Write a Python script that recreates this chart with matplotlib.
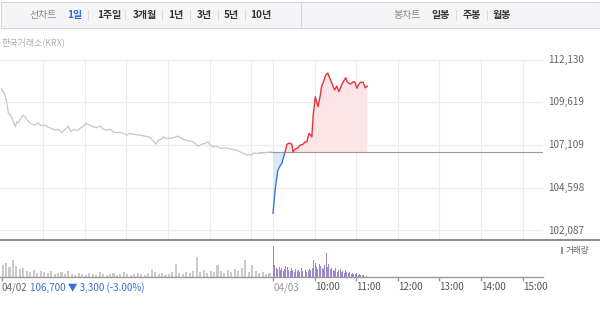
import numpy as np
import matplotlib.pyplot as plt
from matplotlib.patches import Rectangle
from matplotlib.lines import Line2D

plt.rcParams['font.family'] = ['Noto Sans CJK KR', 'DejaVu Sans']

# 데이터
prev_close = 106700
y_ticks = [102087, 104598, 107109, 109619, 112130]

# 04/02 (분, 가격)
day1_min = [0, 2, 4, 7, 10, 13, 17, 20, 22, 24, 28, 31, 35, 39, 44, 48, 53, 57, 63, 68, 72,
            77, 82, 87, 92, 96, 100, 104, 109, 113, 118, 122, 127, 132, 137, 142, 147, 152,
            157, 161, 166, 171, 176, 181, 185, 193, 200, 207, 214, 220, 223, 226, 231, 233,
            237, 243, 250, 255, 260, 265, 269, 274, 279, 284, 289, 294, 298, 301, 306, 311,
            316, 322, 327, 332, 338, 344, 349, 354, 357, 361, 364, 370, 375, 383, 390]
day1_price = [110400, 110250, 110150, 109750, 108970, 108870, 108470, 108180, 108470, 108410,
              108670, 108870, 108730, 108470, 108340, 108280, 108410, 108240, 108280, 108140,
              108080, 107990, 108030, 107850, 108040, 108220, 107890, 108030, 107940, 108080,
              108220, 108380, 108280, 108180, 108120, 108220, 108030, 107990, 108030, 107890,
              107830, 107850, 107790, 107690, 107790, 107720, 107690, 107630, 107560, 107300,
              107160, 107400, 107440, 107590, 107500, 107500, 107560, 107630, 107500, 107400,
              107360, 107340, 107200, 107040, 107160, 107200, 107300, 107100, 107000, 107040,
              106910, 106940, 106910, 106850, 106810, 106710, 106610, 106520, 106570, 106520,
              106650, 106610, 106650, 106670, 106700]

# 04/03 (분, 가격)
day2_min = [0, 3, 7, 10, 13, 14, 17, 20, 23, 27, 29, 32, 36, 39, 43, 46, 49, 50, 52, 56,
            58, 61, 63, 65, 68, 70, 72, 76, 79, 81, 85, 87, 89, 92, 95, 100, 105, 107, 110,
            112, 116, 118, 121, 123, 126, 130, 133, 136]
day2_price = [103100, 104460, 105630, 105870, 106040, 106220, 106630, 107140, 107220, 107160,
              106690, 106870, 106940, 107100, 107140, 107280, 107300, 107510, 107790, 107590,
              108870, 109940, 109650, 109360, 109980, 110530, 110730, 111220, 111340, 111120,
              110730, 110510, 110340, 110570, 110240, 110730, 111060, 110810, 110730, 110690,
              110830, 110810, 110440, 110630, 110790, 110790, 110470, 110570]

# 거래량 (천주)
day1_vol = [12, 14, 10, 17, 11, 8, 9, 6, 5, 7, 4, 6, 5, 4, 6, 3, 4, 5, 3, 6,
            3, 2, 4, 3, 2, 4, 3, 2, 5, 3, 2, 3, 4, 2, 3, 5, 3, 2, 3, 4,
            3, 2, 4, 8, 5, 3, 4, 2, 3, 5, 13, 4, 3, 5, 4, 6, 20, 5, 7, 4,
            6, 5, 12, 6, 4, 7, 5, 8, 6, 9, 17, 5, 12, 6, 4, 5, 3, 4]
day2_vol = [31, 12, 9, 8, 10, 7, 9, 6, 8, 11, 10, 7, 6, 9, 7, 5, 8, 6, 7, 5,
            9, 6, 12, 7, 5, 6, 8, 7, 9, 17, 14, 10, 8, 13, 11, 9, 8, 12, 24, 10,
            13, 8, 9, 7, 6, 9, 5, 7, 8, 5, 6, 4, 7, 5, 4, 5, 3, 4, 3, 3,
            4, 2, 3, 2, 2, 2, 1, 1]

time_labels = ['04/03', '10:00', '11:00', '12:00', '13:00', '14:00', '15:00']

W, H = 600, 310
DAY1_START = 1.5 / 41.6
DAY2_START = 273 / 41.6
XMAX = 543 / 41.6


def fy(py):
    return 1 - py / H


fig = plt.figure(figsize=(6, 3.1), dpi=100)

# 상단 메뉴
fig.add_artist(Rectangle((0.5 / W, fy(28)), 300 / W, 26 / H, facecolor='#f5f5f7',
                         edgecolor='#d6d6d9', lw=0.8))
fig.add_artist(Rectangle((301 / W, fy(28)), 298.5 / W, 26 / H, facecolor='#f5f5f7',
                         edgecolor='#d6d6d9', lw=0.8))
menu_l = [('선차트', 29, '#888888', 'normal'), ('1일', 67, '#2f6bd1', 'bold'),
          ('1주일', 97, '#333333', 'bold'), ('3개월', 133, '#333333', 'bold'),
          ('1년', 168, '#333333', 'bold'), ('3년', 197, '#333333', 'bold'),
          ('5년', 224, '#333333', 'bold'), ('10년', 250, '#333333', 'bold')]
for txt, px, col, wt in menu_l:
    fig.text(px / W, fy(15), txt, color=col, fontsize=7.2, fontweight=wt, va='center')
for px in [88, 125, 162, 190, 218, 245]:
    fig.add_artist(Line2D([px / W] * 2, [fy(10), fy(20)], color='#d8d8d8', lw=0.6))
menu_r = [('봉차트', 393, '#888888', 'normal'), ('일봉', 432, '#333333', 'bold'),
          ('주봉', 463, '#333333', 'bold'), ('월봉', 493, '#333333', 'bold')]
for txt, px, col, wt in menu_r:
    fig.text(px / W, fy(15), txt, color=col, fontsize=7.2, fontweight=wt, va='center')
for px in [456, 487]:
    fig.add_artist(Line2D([px / W] * 2, [fy(10), fy(20)], color='#d8d8d8', lw=0.6))

fig.text(2 / W, fy(42), '한국거래소(KRX)', color='#b0b0b0', fontsize=6.5, va='center')

# 가격 차트
ax = fig.add_axes([0, fy(240), 543 / W, (240 - 59.5) / H])
step = y_ticks[1] - y_ticks[0]
ax.set_xlim(0, XMAX)
ax.set_ylim(y_ticks[0] - step * 9.5 / 42.75, y_ticks[-1])
for s in ax.spines.values():
    s.set_visible(False)
ax.set_xticks([])
ax.set_yticks([])

for v in y_ticks:
    ax.axhline(v, color='#ececec', lw=0.8, zorder=0)
    ax.text(1.009, v, f'{v:,}', transform=ax.get_yaxis_transform(), ha='left',
            va='center', color='#666666', fontsize=7.2, clip_on=False)
for h in range(1, 7):
    ax.axvline(DAY1_START + h, color='#ececec', lw=0.8, zorder=0)
for h in range(0, 7):
    ax.axvline(DAY2_START + h, color='#ececec', lw=0.8, zorder=0)

x1 = DAY1_START + np.array(day1_min) / 60
x2 = DAY2_START + np.array(day2_min) / 60
p2 = np.array(day2_price)

ax.plot(x1, day1_price, color='#c8c8c8', lw=0.9, zorder=3)
ax.hlines(prev_close, DAY1_START + 372 / 60, XMAX, color='#9a9a9a', lw=0.8, zorder=2)

ax.fill_between(x2, p2, prev_close, where=p2 >= prev_close, interpolate=True,
                color='#fde4e6', lw=0, zorder=1)
ax.fill_between(x2, p2, prev_close, where=p2 <= prev_close, interpolate=True,
                color='#dde8f6', lw=0, zorder=1)

red_line, = ax.plot(x2, p2, color='#e9323e', lw=1.0, zorder=4)
red_line.set_clip_path(Rectangle((0, prev_close), 20, 20000, transform=ax.transData))
blue_line, = ax.plot(x2, p2, color='#3a77d6', lw=1.0, zorder=4)
blue_line.set_clip_path(Rectangle((0, prev_close - 20000), 20, 20000, transform=ax.transData))

# 구분선
fig.add_artist(Line2D([0, 1], [fy(240)] * 2, color='#8c8c8c', lw=1.4))

# 거래량
axv = fig.add_axes([0, fy(277), 543 / W, 37 / H])
axv.set_xlim(0, XMAX)
axv.set_ylim(0, 37)
for k in ['top', 'left', 'right']:
    axv.spines[k].set_visible(False)
axv.spines['bottom'].set_color('#9a9a9a')
axv.spines['bottom'].set_linewidth(1.0)
axv.set_yticks([])

v1x = DAY1_START + np.arange(len(day1_vol)) * 5 / 60
v2x = DAY2_START + np.arange(len(day2_vol)) * 2 / 60
axv.bar(v1x, day1_vol, width=3.0 / 60, align='edge', color='#cacaca', lw=0)
axv.bar(v2x, day2_vol, width=1.4 / 60, align='edge', color='#9b87cd', lw=0)

ticks = [DAY1_START] + [DAY2_START + h for h in range(7)]
axv.set_xticks(ticks)
axv.set_xticklabels([])
axv.tick_params(axis='x', direction='out', length=3, color='#9a9a9a', width=1)

tr = axv.get_xaxis_transform()
axv.text(DAY1_START - 0.01, -0.28, '04/02', transform=tr, ha='left', va='center',
         color='#666666', fontsize=7, clip_on=False)
axv.text(30 / 41.6, -0.28, '106,700 ▼ 3,300 (-3.00%)', transform=tr, ha='left',
         va='center', color='#3a6fcf', fontsize=7, clip_on=False)
for i, lbl in enumerate(time_labels):
    axv.text(DAY2_START + i, -0.28, lbl, transform=tr, ha='left', va='center',
             color='#999999' if i == 0 else '#555555', fontsize=7, clip_on=False)

fig.add_artist(Rectangle((561 / W, fy(254)), 2 / W, 7 / H, facecolor='#9b87cd', lw=0))
fig.text(566 / W, fy(251), '거래량', color='#666666', fontsize=6.2, va='center')

fig.savefig('out.png', dpi=100)
